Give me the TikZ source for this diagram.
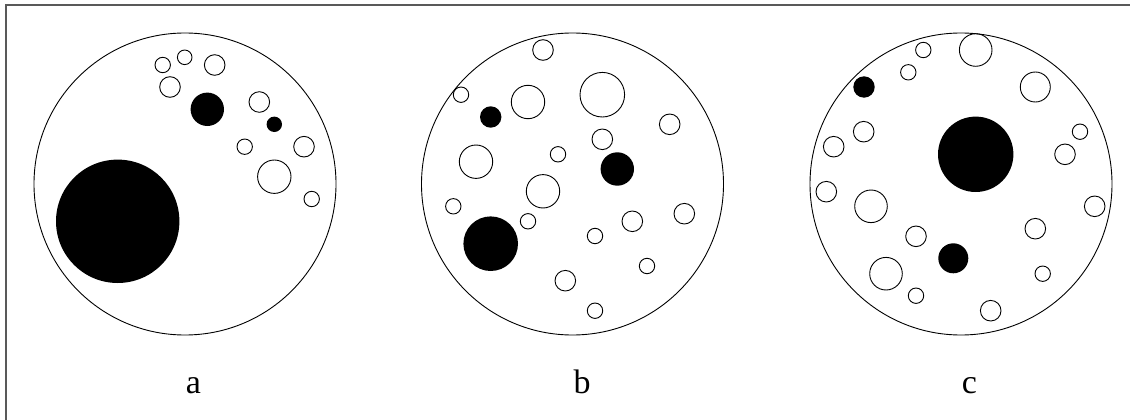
\documentclass[tikz,border=0pt]{standalone}
\usepackage{fontspec}
\setmainfont{Liberation Serif}
\usepackage{tikz}
\usetikzlibrary{positioning}

\begin{document}
\begin{tikzpicture}[
    x=1pt, y=-1pt,
    dish/.style={draw, line width=0.9pt},
    pore/.style={draw, line width=0.9pt},
    blob/.style={fill=black},
    panellabel/.style={font=\fontsize{34}{40}\selectfont, anchor=base}
]
\useasboundingbox (0,0) rectangle (1130,420);
% frame
\draw[line width=1.3pt, black!65] (6,420) -- (6,5) -- (1130,5);

% panel a
\draw[dish] (185,184) circle (151);
\foreach \x/\y/\r in {162.7/65/7.7, 184.7/57.3/7.3, 214.7/65/10.3, 170/87/10.3,
    259.3/102/10.3, 244.7/146.7/7.7, 304/146.7/10.3, 274.3/176.7/16.7, 311.7/199/7.7}
    \draw[pore] (\x,\y) circle (\r);
\foreach \x/\y/\r in {207.3/109.3/16.7, 274.3/124.3/7.7, 117.7/221.3/61.7}
    \fill[blob] (\x,\y) circle (\r);

% panel b
\draw[dish] (572.5,184) circle (151);
\foreach \x/\y/\r in {543/50/10.3, 461/94.7/7.7, 528/102/16.7, 602.3/94.7/22.3,
    669.7/124.3/10.3, 602.3/139.3/10.3, 558/154.3/7.7, 476/161.7/16.7,
    543/191.3/16.7, 453.3/206.3/7.7, 528/221.3/7.7, 632.3/221.3/10.3,
    684.3/213.7/10.3, 595/236/7.7, 647/266/7.7, 565.3/280.7/10.3, 595/310.7/7.7}
    \draw[pore] (\x,\y) circle (\r);
\foreach \x/\y/\r in {490.7/117/10.7, 617.3/169/16.7, 490.7/243.7/27.3}
    \fill[blob] (\x,\y) circle (\r);

% panel c
\draw[dish] (961,184) circle (151);
\foreach \x/\y/\r in {923.3/50/7.7, 975.7/50/16.3, 908.3/72.3/7.7, 1035.3/87/15,
    863.7/131.7/10.3, 1080/131.7/7.7, 833.7/146.7/10.3, 1065/154.3/10.3,
    826.3/191.7/10.3, 871/206.3/16.3, 1094.7/206.3/10.3, 1035.3/228.7/10.3,
    916/236.3/10.3, 886/273.7/16.3, 1042.7/273.7/7.7, 916/295.7/7.7, 990.7/310.7/10.3}
    \draw[pore] (\x,\y) circle (\r);
\foreach \x/\y/\r in {864/87/10.7, 975.7/154.3/37.7, 953.3/258.3/15}
    \fill[blob] (\x,\y) circle (\r);

% labels
\node[panellabel] (la) at (193.5,393) {a};
\node[panellabel] (lb) at (582,393) {b};
\node[panellabel] (lc) at (969.5,393) {c};
\end{tikzpicture}
\end{document}
